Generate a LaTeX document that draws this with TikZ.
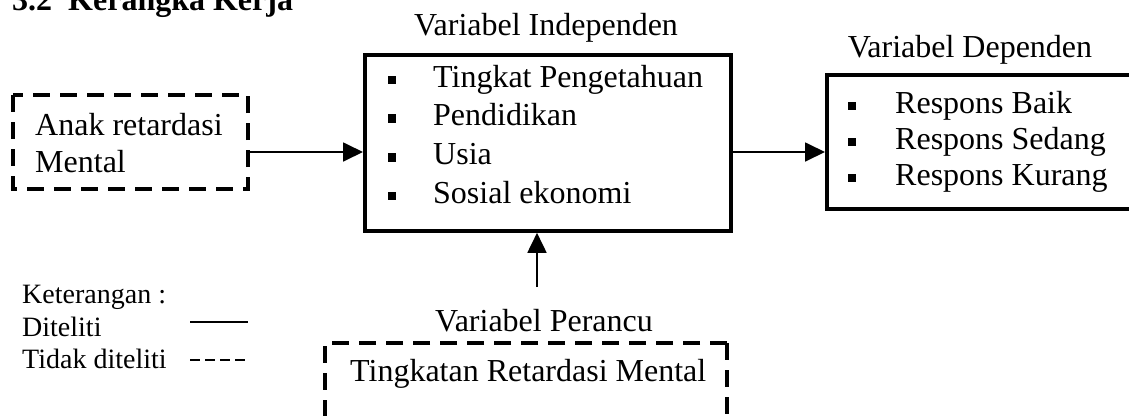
\documentclass[tikz,border=0pt]{standalone}
\usepackage{fontspec}
\setmainfont{Liberation Serif}
\usetikzlibrary{arrows.meta}
\tikzset{
  solidbox/.style={draw, line width=3.8bp, inner sep=0pt},
  dashbox/.style={draw, line width=3.6bp, dash pattern=on 17bp off 10bp},
  txt/.style={inner sep=0pt, font=\fontsize{32bp}{38bp}\selectfont},
  smalltxt/.style={inner sep=0pt, font=\fontsize{28bp}{33bp}\selectfont},
  bul/.style={fill=black, inner sep=0pt, minimum size=8.5bp},
  arr/.style={line width=1.8bp, -{Triangle[length=20bp,width=19bp]}}
}
\begin{document}
\begin{tikzpicture}[x=1bp,y=-1bp]
\useasboundingbox (0,0) rectangle (1129,415);
% title (cut by the top edge)
\node[txt, anchor=base west, font=\fontsize{32bp}{38bp}\selectfont\bfseries] (title) at (12,10) {3.2\ \ Kerangka Kerja};
% left dashed box
\draw[dashbox] (13,95) rectangle (248,189);
\coordinate (lboxE) at (248,152);
\node[txt, anchor=base west] (anak1) at (35,135) {Anak retardasi};
\node[txt, anchor=base west] (anak2) at (35,172) {Mental};
% main box
\node[solidbox, anchor=north west, minimum width=366bp, minimum height=176bp] (indep) at (363,53) {};
\node[txt, anchor=base] (indeplab) at (546,35) {Variabel Independen};
\foreach \t [count=\i] in {Tingkat Pengetahuan, Pendidikan, Usia, Sosial ekonomi}{
  \pgfmathsetmacro{\yy}{87+38.7*(\i-1)}
  \node[bul] (ib\i) at (392,\yy-7) {};
  \node[txt, anchor=base west] (it\i) at (433,\yy) {\t};
}
% right box
\node[solidbox, anchor=north west, minimum width=320bp, minimum height=134bp] (dep) at (825,73) {};
\node[txt, anchor=base] (deplab) at (970,57) {Variabel Dependen};
\foreach \t [count=\i] in {Respons Baik, Respons Sedang, Respons Kurang}{
  \pgfmathsetmacro{\yy}{113+36*(\i-1)}
  \node[bul] (db\i) at (852,\yy-7) {};
  \node[txt, anchor=base west] (dt\i) at (895,\yy) {\t};
}
% bottom dashed box
\draw[dashbox] (727,343) -- (325,343) -- (325,440);
\draw[dashbox] (727,343) -- (727,440);
\node[txt, anchor=base west] (tingkat) at (350,381) {Tingkatan Retardasi Mental};
\node[txt, anchor=base] (perlab) at (544,331) {Variabel Perancu};
% arrows
\draw[arr] (lboxE) -- (indep.west |- lboxE);
\coordinate (iE) at (indep.east |- 0,152);
\draw[arr] (iE) -- (dep.west |- iE);
\coordinate (pStart) at (537,287);
\draw[arr] (pStart) -- (pStart |- indep.south);
% legend
\node[smalltxt, anchor=base west] (ket) at (22,303) {Keterangan :};
\node[smalltxt, anchor=base west] (dit) at (22,336) {Diteliti};
\node[smalltxt, anchor=base west] (tdit) at (22,368) {Tidak diteliti};
\coordinate (l1a) at (190,322); \coordinate (l1b) at (248,322);
\coordinate (l2a) at (190,360); \coordinate (l2b) at (246,360);
\draw[line width=1.8bp] (l1a) -- (l1b);
\draw[line width=2bp, dash pattern=on 10bp off 5bp] (l2a) -- (l2b);
\end{tikzpicture}
\end{document}
